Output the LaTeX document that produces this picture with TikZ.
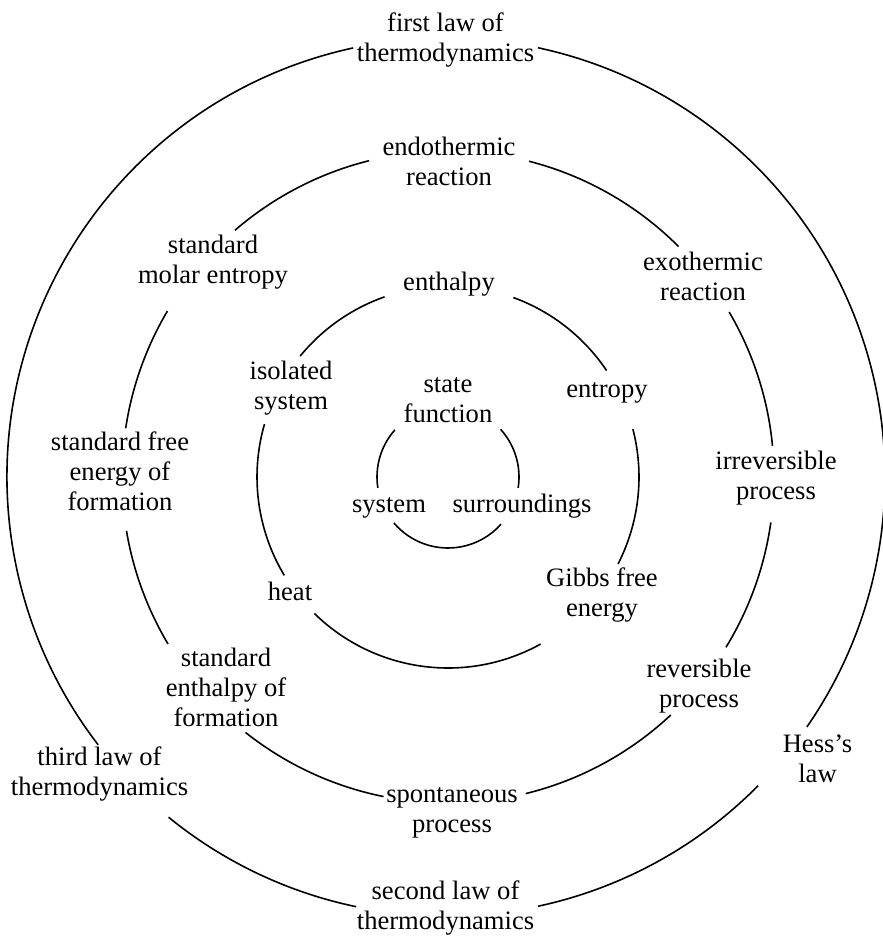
\documentclass[tikz,border=0pt]{standalone}
\usepackage{fontspec}
\setmainfont{Liberation Serif}
% one arc of a ring: centre, radius, start angle, end angle
\newcommand\ringarc[4]{\draw[ring] (#1) ++(#3:#2) arc[start angle=#3, end angle=#4, radius=#2];}
\begin{document}
\begin{tikzpicture}[x=1pt,y=1pt,
  lbl/.style={align=center, inner sep=0pt,
    font=\fontsize{26.6pt}{30pt}\selectfont,
    execute at begin node=\strut, execute at end node=\strut},
  ring/.style={line width=1.6pt, black}]
\useasboundingbox (0,0) rectangle (883,-937);
\coordinate (O) at (448,-477);
\coordinate (Q) at (446,-477);

% labels
\node[lbl] (firstlaw)  at (445.5,-41.5) {first law of\\thermodynamics};
\node[lbl] (endo)      at (449,-165.5)  {endothermic\\reaction};
\node[lbl] (molar)     at (213,-264)    {standard\\molar entropy};
\node[lbl] (exo)       at (703,-280.5)  {exothermic\\reaction};
\node[lbl] (enthalpy)  at (449,-284)    {enthalpy};
\node[lbl] (isolated)  at (291,-389.5)  {isolated\\system};
\node[lbl] (statefn)   at (448,-404.5)  {state\\function};
\node[lbl] (entropy)   at (607,-391)    {entropy};
\node[lbl] (system)    at (389,-506)    {system};
\node[lbl] (surr)      at (522,-506)    {surroundings};
\node[lbl] (freeen)    at (120,-476)    {standard free\\energy of\\formation};
\node[lbl] (irrev)     at (776,-480)    {irreversible\\process};
\node[lbl] (heat)      at (290,-594)    {heat};
\node[lbl] (gibbs)     at (602,-597)    {Gibbs free\\energy};
\node[lbl] (stdenth)   at (226,-691.5)  {standard\\enthalpy of\\formation};
\node[lbl] (rev)       at (699,-687.5)  {reversible\\process};
\node[lbl] (thirdlaw)  at (99.5,-775.5) {third law of\\thermodynamics};
\node[lbl] (hess)      at (817.5,-763)  {Hess’s\\law};
\node[lbl] (spont)     at (452,-815)    {spontaneous\\process};
\node[lbl] (secondlaw) at (445.5,-910)  {second law of\\thermodynamics};

% outer ring
\ringarc{Q}{439}{102.2}{217.6}
\ringarc{Q}{439}{230.8}{258.2}
\ringarc{Q}{439}{282.1}{315.3}
\ringarc{Q}{439}{325.3}{437.9}

% third ring
\ringarc{O}{326}{45}{75.6}
\ringarc{O}{326}{104}{130.8}
\ringarc{O}{326}{149.4}{171.4}
\ringarc{O}{326}{189.5}{210.8}
\ringarc{O}{326}{231.6}{258.6}
\ringarc{O}{326}{283.8}{313.1}
\ringarc{O}{326}{328.5}{352}
\ringarc{O}{326}{5.5}{30.4}

% second ring
\ringarc{O}{191}{33.9}{70}
\ringarc{O}{191}{109.4}{140.7}
\ringarc{O}{191}{163.9}{211}
\ringarc{O}{191}{225.6}{299}
\ringarc{O}{191}{332.9}{374.5}

% inner ring
\ringarc{O}{71}{138.4}{188.8}
\ringarc{O}{71}{220.4}{318.4}
\ringarc{O}{71}{351.2}{402.2}
\end{tikzpicture}
\end{document}
